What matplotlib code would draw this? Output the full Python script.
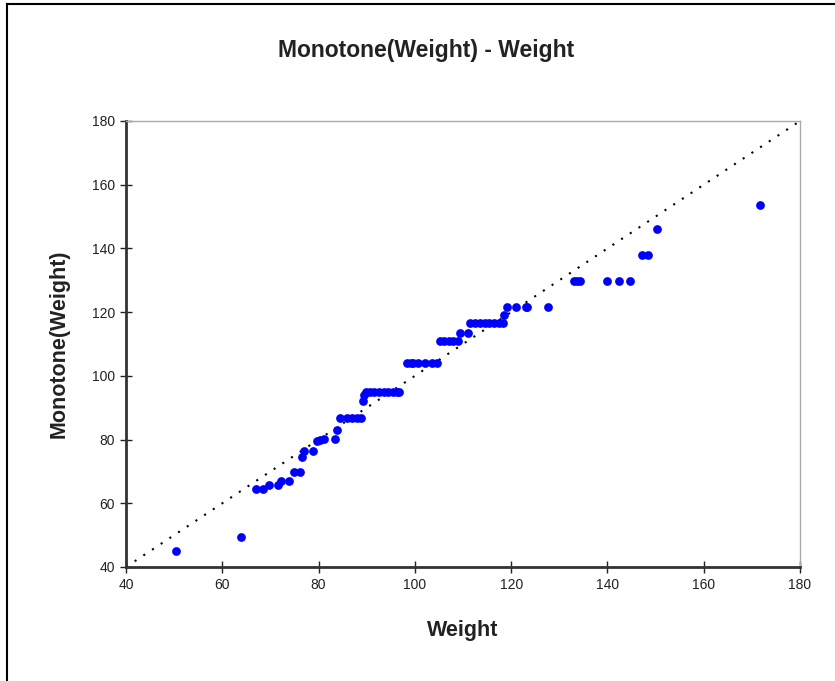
import matplotlib
matplotlib.use("Agg")
import matplotlib.pyplot as plt
from matplotlib.lines import Line2D

weight = [50.4, 63.9, 66.9, 68.5, 69.6, 71.6, 72.2, 73.9, 74.8, 76.1,
          76.5, 77.0, 78.9, 79.6, 80.3, 81.1, 83.4, 83.8, 84.5, 86.0,
          87.0, 88.0, 88.8, 89.2, 89.5, 89.9, 90.6, 91.5, 92.5, 93.5,
          94.5, 95.5, 96.3, 96.8, 98.3, 99.2, 99.7, 100.7, 102.1, 103.5,
          104.5, 105.2, 106.0, 107.0, 108.0, 109.0, 109.4, 111.1, 111.5, 112.5,
          113.5, 114.5, 115.5, 116.5, 117.5, 118.4, 118.6, 119.2, 121.1, 123.0,
          123.2, 127.6, 133.0, 133.6, 134.3, 140.0, 142.4, 144.7, 147.1, 148.5,
          150.2, 171.7]
monotone = [45.0, 49.5, 64.6, 64.6, 65.7, 65.7, 67.1, 67.1, 69.7, 69.7,
            74.6, 76.5, 76.5, 79.4, 79.9, 80.2, 80.2, 83.0, 86.7, 86.7,
            86.7, 86.7, 86.7, 92.2, 94.0, 95.0, 95.0, 95.0, 95.0, 95.0,
            95.0, 95.0, 95.0, 95.0, 104.1, 104.1, 104.1, 104.1, 104.1, 104.1,
            104.1, 111.0, 111.0, 111.0, 111.0, 111.0, 113.5, 113.5, 116.7, 116.7,
            116.7, 116.7, 116.7, 116.7, 116.7, 116.7, 119.1, 121.7, 121.7, 121.7,
            121.7, 121.7, 129.9, 129.9, 129.9, 129.9, 129.9, 129.9, 138.0, 138.0,
            146.1, 153.7]
ref_line = [40, 180]
ticks = [40, 60, 80, 100, 120, 140, 160, 180]

plt.rcParams['font.family'] = ['Liberation Sans', 'DejaVu Sans']
fig = plt.figure(figsize=(8.35, 6.81), dpi=100)
ax = fig.add_axes([126/835, 1-567/681, (800-126)/835, (567-121)/681])

ax.plot(ref_line, ref_line, color='black', linestyle=(0, (1, 4)), linewidth=1.5, zorder=1)
ax.plot(weight, monotone, 'o', color='#0000ff', markersize=6.3, markeredgewidth=0, zorder=2)

ax.set_xlim(40, 180)
ax.set_ylim(40, 180)
ax.set_xticks(ticks)
ax.set_yticks(ticks)
ax.tick_params(direction='inout', length=8, width=1, labelsize=10, colors='#222222', pad=4)
for s in ['left', 'bottom']:
    ax.spines[s].set_linewidth(2)
    ax.spines[s].set_color('#333333')
for s in ['top', 'right']:
    ax.spines[s].set_linewidth(1)
    ax.spines[s].set_color('#aaaaaa')

ax.set_xlabel('Weight', fontsize=15.5, fontweight='bold', color='#222222', labelpad=20)
ax.set_ylabel('Monotone(Weight)', fontsize=15.5, fontweight='bold', color='#222222', labelpad=16)
fig.text(426/835, 1-50/681, 'Monotone(Weight) - Weight', fontsize=16.5, fontweight='bold',
         color='#222222', ha='center', va='center')

# figure frame (left and top black)
fig.add_artist(Line2D([7/835, 7/835], [0, 1-4/681], transform=fig.transFigure, color='black', linewidth=1.5))
fig.add_artist(Line2D([7/835, 1], [1-4/681, 1-4/681], transform=fig.transFigure, color='black', linewidth=1.5))

fig.savefig('out.png', dpi=100)
